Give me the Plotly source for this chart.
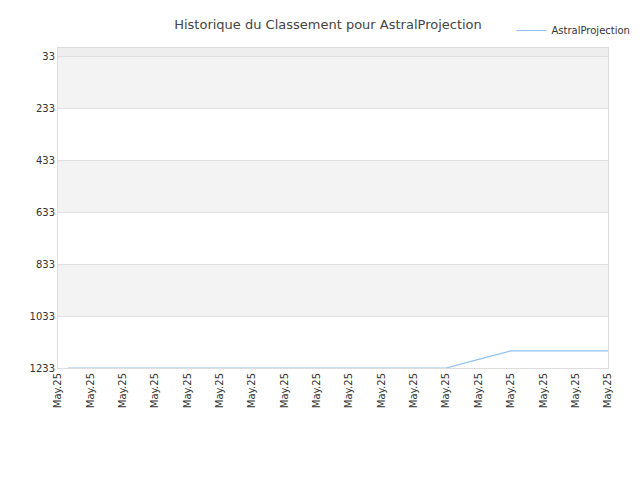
import plotly.graph_objects as go

labels = ["May.25"] * 18
x_idx = list(range(18))
ranks = [1233]*13 + [1200, 1167, 1167, 1167, 1167]
x_data = [0.3] + x_idx[1:]
ticks = [33, 233, 433, 633, 833, 1033, 1233]

fig = go.Figure()
fig.add_trace(go.Scatter(x=x_data, y=ranks, mode="lines", name="AstralProjection",
                         line=dict(color="#90c0f0", width=1.2)))
shapes = []
for a, b in [(2, 33), (33, 233), (433, 633), (833, 1033)]:
    shapes.append(dict(type="rect", xref="paper", yref="y", x0=0, x1=1, y0=a, y1=b,
                       fillcolor="#eeeeee" if a == 2 else "#f3f3f3", line_width=0, layer="below"))
fig.update_layout(
    width=640, height=480, plot_bgcolor="white", paper_bgcolor="white",
    shapes=shapes,
    title=dict(text="Historique du Classement pour AstralProjection", x=0.5, xanchor="center",
               y=0.975, font=dict(family="DejaVu Sans", size=13, color="#444")),
    margin=dict(l=50, r=40, t=40, b=120, autoexpand=False),
    font=dict(family="DejaVu Sans", size=10, color="#333"),
    showlegend=True,
    legend=dict(x=1.05, y=1.1, xanchor="right", yanchor="top", font=dict(size=10),
                bgcolor="rgba(0,0,0,0)"),
    xaxis=dict(tickmode="array", tickvals=x_idx, ticktext=labels, tickangle=-90,
               range=[0, 17], showgrid=False, zeroline=False, showline=True,
               linecolor="#ddd", mirror=True, automargin=False),
    yaxis=dict(range=[1233, 2], tickmode="array", tickvals=ticks, showgrid=True,
               gridcolor="#e0e0e0", showline=True, linecolor="#ddd", mirror=True,
               zeroline=False, automargin=False),
)
fig.write_html("out.html")
